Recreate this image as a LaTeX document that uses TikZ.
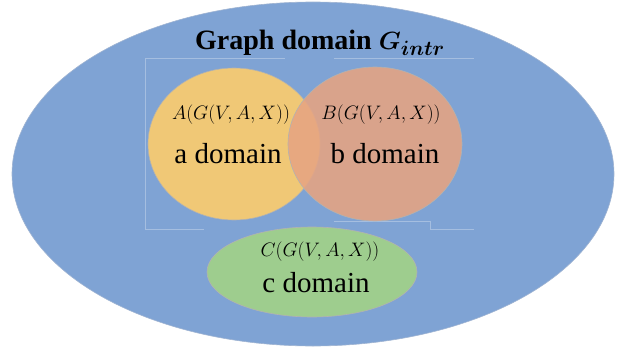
\documentclass[tikz,border=0pt]{standalone}
\usepackage{fontspec}
\setmainfont{Liberation Serif}
\usepackage{amsmath}
\usepackage{bm}
\usepackage{graphicx}
\usetikzlibrary{shapes.geometric}
\definecolor{graphblue}{RGB}{127,163,212}
\definecolor{graphedge}{RGB}{160,180,210}
\definecolor{adom}{RGB}{240,200,118}
\definecolor{bdom}{RGB}{230,164,130}
\definecolor{cdom}{RGB}{158,205,142}
\newcommand{\gform}[1]{\scalebox{0.94}{$#1(G(V,A,X))$}}

\begin{document}
\begin{tikzpicture}[x=1pt,y=1pt,
  region/.style={ellipse,inner sep=0pt,draw=black!30,line width=0.6pt},
  formula/.style={font=\fontsize{20}{22}\selectfont},
  dlabel/.style={font=\fontsize{29}{32}\selectfont,anchor=base}]
  \useasboundingbox (0,0) rectangle (618,349);
  % outer graph domain
  \node[region,draw=graphedge,fill=graphblue,minimum width=602pt,minimum height=344pt] (graph) at (313,175) {};
  % faint frame left over from the grouping
  \draw[white,opacity=0.3,line width=0.5pt] (285,291) -- (145,291) -- (145,120) -- (204,120)
    (334,291) -- (474,291) (334,128) -- (430,128) -- (430,120) -- (474,120);
  % a and b domains
  \node[region,fill=adom,minimum width=172pt,minimum height=152pt] (adomain) at (234,205) {};
  \node[region,fill=bdom,fill opacity=0.88,minimum width=174pt,minimum height=154pt] (bdomain) at (375,205) {};
  % c domain
  \node[region,fill=cdom,minimum width=210pt,minimum height=90pt] (cdomain) at (312,77) {};
  % texts
  \node[font=\fontsize{28}{30}\selectfont\bfseries,anchor=base] (title) at (320,299) {Graph domain $\bm{G_{intr}}$};
  \node[formula] (aform) at (231,234) {\gform{A}};
  \node[dlabel] (alabel) at (228,186) {a domain};
  \node[formula] (bform) at (381,234) {\gform{B}};
  \node[dlabel] (blabel) at (385,186) {b domain};
  \node[formula] (cform) at (320,97) {\gform{C}};
  \node[dlabel] (clabel) at (316,57) {c domain};
\end{tikzpicture}
\end{document}
